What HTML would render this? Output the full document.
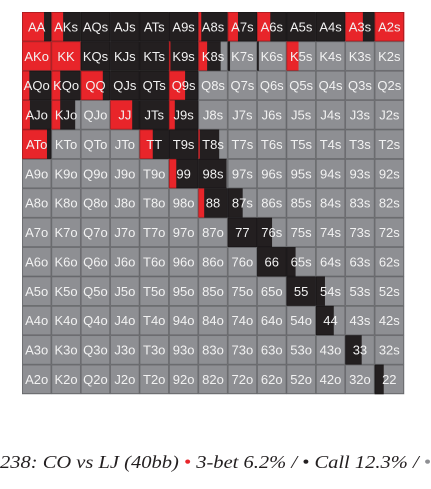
<!DOCTYPE html>
<html><head><meta charset="utf-8"><style>
html,body{margin:0;padding:0;background:#fff;width:431px;height:489px;overflow:hidden}
svg{display:block}
</style></head><body>
<svg id="chart" width="431" height="489" viewBox="0 0 431 489" xmlns="http://www.w3.org/2000/svg">
<g id="grid"></g>
<text x="0" y="468" font-family="Liberation Serif, serif" font-style="italic" font-size="18" fill="#231f20" textLength="431" lengthAdjust="spacingAndGlyphs">238: CO vs LJ (40bb) <tspan fill="#e8252a">•</tspan> 3-bet 6.2% / • Call 12.3% / <tspan fill="#8e8f93">•</tspan></text>
</svg>
<script>
const ranks = ['A','K','Q','J','T','9','8','7','6','5','4','3','2'];
// raise (3-bet) fractions per cell, row-major
const raiseFrac = [
[0.75,0.4,0,0,0,0,0.1,0.35,0.45,0,0,0.6,1],
[1,1,0,0,0,0.05,0.3,0,0,0.4,0,0,0],
[0.25,0.3,0.75,0,0,0.55,0,0,0,0,0,0,0],
[0.27,0.3,0,0.75,0,0.2,0,0,0,0,0,0,0],
[0.85,0,0,0,0.45,0,0.05,0,0,0,0,0,0],
[0,0,0,0,0,0.25,0,0,0,0,0,0,0],
[0,0,0,0,0,0,0.2,0,0,0,0,0,0],
[0,0,0,0,0,0,0,0,0,0,0,0,0],
[0,0,0,0,0,0,0,0,0,0,0,0,0],
[0,0,0,0,0,0,0,0,0,0,0,0,0],
[0,0,0,0,0,0,0,0,0,0,0,0,0],
[0,0,0,0,0,0,0,0,0,0,0,0,0],
[0,0,0,0,0,0,0,0,0,0,0,0,0]
];
// call fractions per cell
const callFrac = [
[0.25,0.6,1,1,1,1,0.9,0.65,0.55,1,1,0.4,0],
[0,0,1,1,1,0.95,0.45,0.07,0.05,0,0,0,0],
[0.75,0.7,0.25,1,1,0.45,0,0,0,0,0,0,0],
[0.73,0.5,0,0.25,1,0.8,0,0,0,0,0,0,0],
[0.15,0,0,0,0.55,1,0.65,0,0,0,0,0,0],
[0,0,0,0,0,0.75,0.95,0,0,0,0,0,0],
[0,0,0,0,0,0,0.8,0.5,0,0,0,0,0],
[0,0,0,0,0,0,0,1,0.5,0,0,0,0],
[0,0,0,0,0,0,0,0,1,0.3,0,0,0],
[0,0,0,0,0,0,0,0,0,1,0.3,0,0],
[0,0,0,0,0,0,0,0,0,0,0.6,0,0],
[0,0,0,0,0,0,0,0,0,0,0,0.55,0],
[0,0,0,0,0,0,0,0,0,0,0,0,0.3]
];
const X0=22, Y0=12, CW=382/13, CH=382/13;
const xAt = c => X0 + c*CW;
const yAt = r => Y0 + r*CH;
const NS='http://www.w3.org/2000/svg';
const g=document.getElementById('grid');
function mk(tag, attrs){const e=document.createElementNS(NS,tag);for(const k in attrs)e.setAttribute(k,attrs[k]);return e;}
const lines=[];
for(let r=0;r<13;r++){for(let c=0;c<13;c++){
  const label = r===c ? ranks[r]+ranks[c] : (c>r ? ranks[r]+ranks[c]+'s' : ranks[c]+ranks[r]+'o');
  const cell=mk('g',{});
  
  
  const x=xAt(c), y=yAt(r);
  const bg=mk('rect',{x:x,y:y,width:CW+0.3,height:CH+0.3,fill:'#8e8f93'});
  cell.appendChild(bg);
  const rw=raiseFrac[r][c]*CW, cw=callFrac[r][c]*CW;
  if(rw>0){const e=mk('rect',{x:x,y:y,width:rw+0.3,height:CH+0.3,fill:'#e8252a'});
    
    
    cell.appendChild(e);}
  if(cw>0){const e=mk('rect',{x:x+rw,y:y,width:cw+0.3,height:CH+0.3,fill:'#231f20'});
    
    
    cell.appendChild(e);}
  const br=mk('rect',{x:x+0.4,y:y+0.4,width:CW-0.8,height:CH-0.8,fill:'none',stroke:'rgba(0,0,0,0.28)','stroke-width':'0.8'});
  lines.push(br);
  const t=mk('text',{x:x+CW/2,y:y+CH/2+4.7,'text-anchor':'middle','font-family':'Liberation Sans, sans-serif','font-size':'13',fill:'#f2f2f2'});
  t.textContent=label;
  
  
  cell.appendChild(br);
  cell.appendChild(t);
  g.appendChild(cell);
}}
</script>
</body></html>
